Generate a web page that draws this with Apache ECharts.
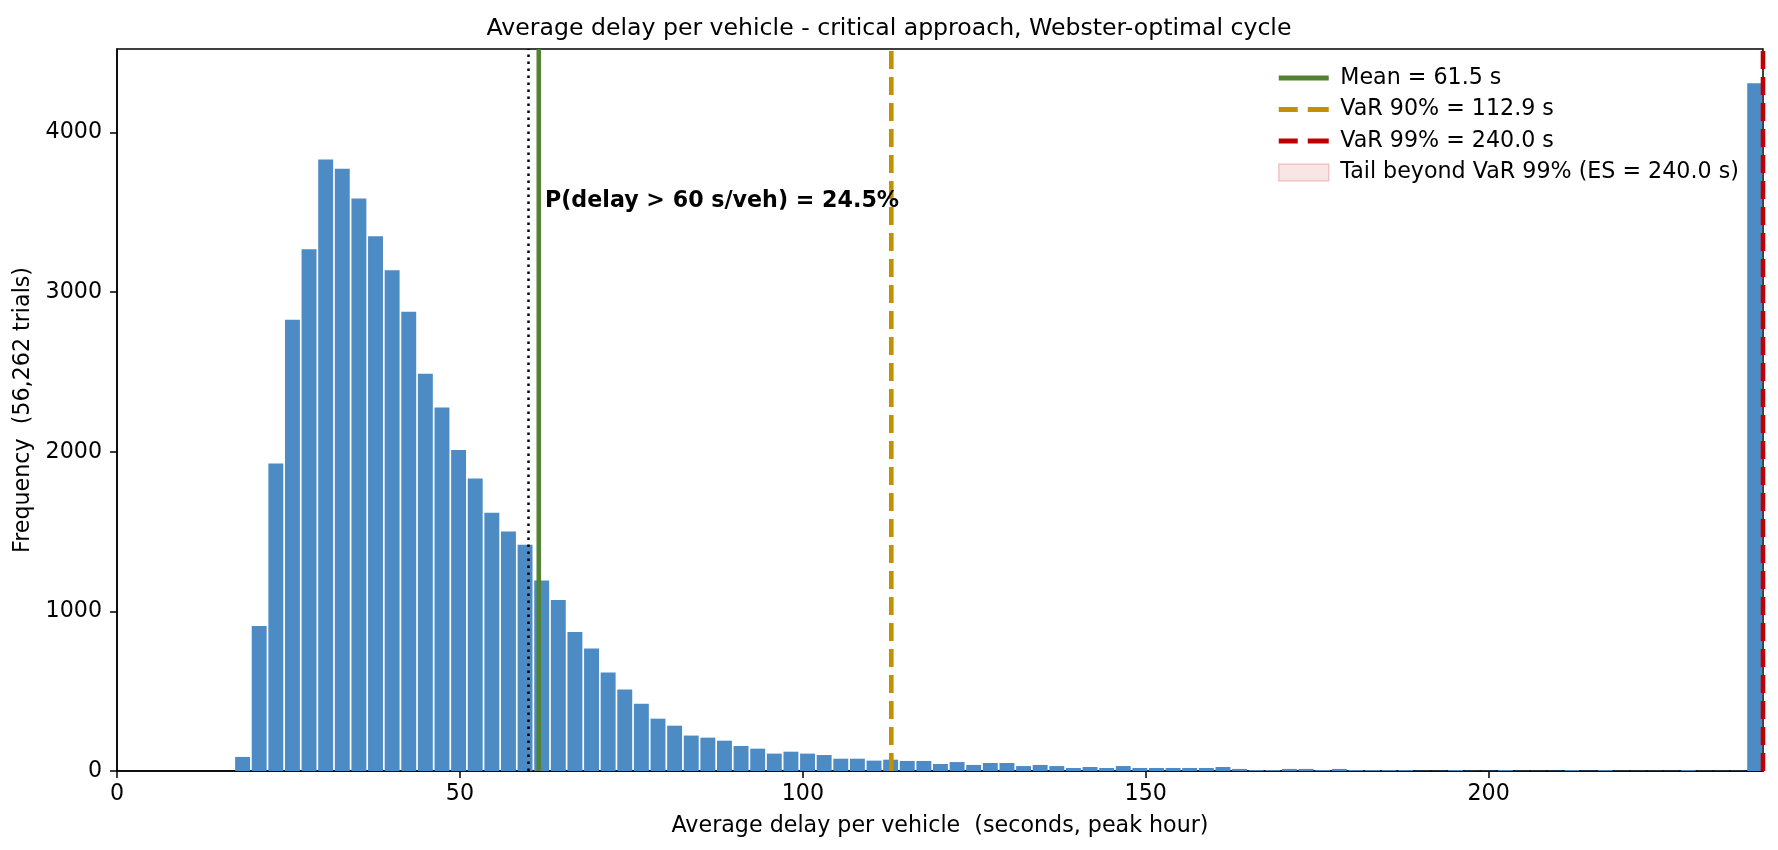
<!DOCTYPE html>
<html>
<head>
<meta charset="utf-8">
<script src="https://cdn.jsdelivr.net/npm/echarts@6/dist/echarts.min.js"></script>
<style>
html,body{margin:0;padding:0;background:#fff;}
#chart{width:1778px;height:850px;}
</style>
</head>
<body>
<div id="chart"></div>
<script>
// ---- data ----
const BIN_START = 17.1;      // left edge of first histogram bin (s/veh)
const BIN_WIDTH = 2.4228;    // histogram bin width (s/veh)
const binCounts = [
  88, 909, 1927, 2828, 3269, 3831, 3774, 3588, 3350, 3137, 2878, 2489, 2278, 2012, 1833, 1618, 1500, 1417, 1193, 1072, 871,
  767, 617, 510, 422, 328, 284, 222, 209, 190, 157, 140, 109, 121, 109, 100, 77, 77, 65, 71,
  63, 63, 44, 56, 38, 50, 50, 31, 38, 31, 19, 25, 19, 31, 19, 19, 19, 19, 19, 25, 13, 6, 6, 13, 13, 6,
  13, 6, 6, 6, 6, 2, 2, 6, 2, 2, 6, 2, 2, 2, 6, 2, 6, 2, 2, 2, 2, 6, 2, 2, 2,
  4309
];
const MEAN = 61.5;
const VAR90 = 112.9;
const VAR99 = 240.0;
const THRESHOLD = 60;
const X_MAX = 240;
const Y_MAX = 4524;
const xTicks = [0, 50, 100, 150, 200];
const yTicks = [0, 1000, 2000, 3000, 4000];
const annotation = { x: 62.4, y: 3567, text: 'P(delay > 60 s/veh) = 24.5%' };
const titleText = 'Average delay per vehicle - critical approach, Webster-optimal cycle';
const xName = 'Average delay per vehicle  (seconds, peak hour)';
const yName = 'Frequency  (56,262 trials)';
const legendNames = ['Mean = 61.5 s', 'VaR 90% = 112.9 s', 'VaR 99% = 240.0 s', 'Tail beyond VaR 99% (ES = 240.0 s)'];

// ---- build ----
const histData = binCounts.map((c, i) => [BIN_START + i * BIN_WIDTH, BIN_START + (i + 1) * BIN_WIDTH, c]);
const FONT = '"DejaVu Sans", "Liberation Sans", sans-serif';
const FS = 22.2;
const BAR = '#4d8bc4';
const GREEN = '#548235';
const GOLD = '#c49000';
const RED = '#c00000';

const chart = echarts.init(document.getElementById('chart'), null, { renderer: 'canvas' });

function vline(name, x, color, type, width) {
  return {
    name: name, type: 'line', data: [[x, 0], [x, Y_MAX]], symbol: 'none', z: 4,
    color: color, lineStyle: { color: color, width: width, type: type, cap: 'butt' },
    silent: true, animation: false
  };
}

const option = {
  animation: false,
  backgroundColor: '#fff',
  title: {
    text: titleText, left: 'center', top: 17, padding: 0,
    textStyle: { fontFamily: FONT, fontSize: 23.6, fontWeight: 'normal', color: '#000' }
  },
  grid: { left: 117, right: 15, top: 49, bottom: 79, show: true, borderColor: '#000', borderWidth: 1.5, backgroundColor: 'transparent' },
  legend: {
    orient: 'vertical', left: 1278, top: 67, padding: 0, itemGap: 9.5,
    itemWidth: 50, itemHeight: 17, align: 'left',
    textStyle: { fontFamily: FONT, fontSize: FS, color: '#000', padding: [0, 0, 0, 6.5] },
    data: [
      { name: legendNames[0], icon: 'path://M0,0h50v5h-50z', itemStyle: { color: GREEN, borderWidth: 0 } },
      { name: legendNames[1], icon: 'path://M0,0h19v5h-19z M29,0h21v5h-21z', itemStyle: { color: GOLD, borderWidth: 0 } },
      { name: legendNames[2], icon: 'path://M0,0h19v5h-19z M29,0h21v5h-21z', itemStyle: { color: RED, borderWidth: 0 } },
      { name: legendNames[3], icon: 'rect', itemStyle: { color: 'rgba(192,0,0,0.1)', borderColor: 'rgba(192,0,0,0.18)', borderWidth: 1.5 } }
    ],
    selectedMode: false
  },
  xAxis: {
    type: 'value', min: 0, max: X_MAX, interval: 50,
    name: xName, nameLocation: 'middle', nameGap: 44,
    nameTextStyle: { fontFamily: FONT, fontSize: FS, color: '#000' },
    axisLine: { show: true, onZero: false, lineStyle: { color: '#000', width: 1.5 } },
    axisTick: { show: true, length: 7, lineStyle: { color: '#000', width: 1.5 }, customValues: xTicks },
    axisLabel: { fontFamily: FONT, fontSize: FS, color: '#000', margin: 12.5, customValues: xTicks,
      formatter: function (v) { return String(v); } },
    splitLine: { show: false }
  },
  yAxis: {
    type: 'value', min: 0, max: Y_MAX, interval: 1000,
    name: yName, nameLocation: 'middle', nameGap: 78, nameRotate: 90,
    nameTextStyle: { fontFamily: FONT, fontSize: FS, color: '#000' },
    axisLine: { show: true, onZero: false, lineStyle: { color: '#000', width: 1.5 } },
    axisTick: { show: true, length: 7, lineStyle: { color: '#000', width: 1.5 }, customValues: yTicks },
    axisLabel: { fontFamily: FONT, fontSize: FS, color: '#000', margin: 15, customValues: yTicks,
      formatter: function (v) { return String(v); } },
    splitLine: { show: false }
  },
  series: [
    {
      name: 'hist', type: 'custom', data: histData, z: 2, silent: true,
      encode: { x: [0, 1], y: 2 },
      renderItem: function (params, api) {
        const p0 = api.coord([api.value(0), 0]);
        const p1 = api.coord([api.value(1), api.value(2)]);
        const gap = 0.85;
        return {
          type: 'rect',
          shape: { x: p0[0] + gap, y: p1[1], width: p1[0] - p0[0] - 2 * gap, height: p0[1] - p1[1] },
          style: { fill: BAR }
        };
      }
    },
    {
      name: legendNames[3], type: 'custom', data: [[VAR99, X_MAX]], z: 1, silent: true,
      color: 'rgba(192,0,0,0.1)',
      encode: { x: [0, 1] },
      renderItem: function (params, api) {
        const p0 = api.coord([api.value(0), 0]);
        const p1 = api.coord([api.value(1), Y_MAX]);
        return {
          type: 'rect',
          shape: { x: p0[0], y: p1[1], width: p1[0] - p0[0], height: p0[1] - p1[1] },
          style: { fill: 'rgba(192,0,0,0.1)' }
        };
      }
    },
    {
      name: 'threshold', type: 'line', data: [[THRESHOLD, 0], [THRESHOLD, Y_MAX]], symbol: 'none', z: 4,
      color: '#000', lineStyle: { color: '#000', width: 2.5, type: [2.6, 4.4], cap: 'butt' }, silent: true
    },
    vline(legendNames[0], MEAN, GREEN, 'solid', 4.6),
    vline(legendNames[1], VAR90, GOLD, [18, 8], 4.6),
    vline(legendNames[2], VAR99, RED, [18, 8], 4.6),
    {
      name: 'annotation', type: 'custom', data: [[annotation.x, annotation.y]], z: 6, silent: true,
      renderItem: function (params, api) {
        const p = api.coord([api.value(0), api.value(1)]);
        return {
          type: 'text', x: p[0], y: p[1],
          style: { text: annotation.text, fill: '#000', fontFamily: FONT, fontSize: FS, fontWeight: 'bold', align: 'left', verticalAlign: 'middle' }
        };
      }
    }
  ]
};
chart.setOption(option);
</script>
</body>
</html>
